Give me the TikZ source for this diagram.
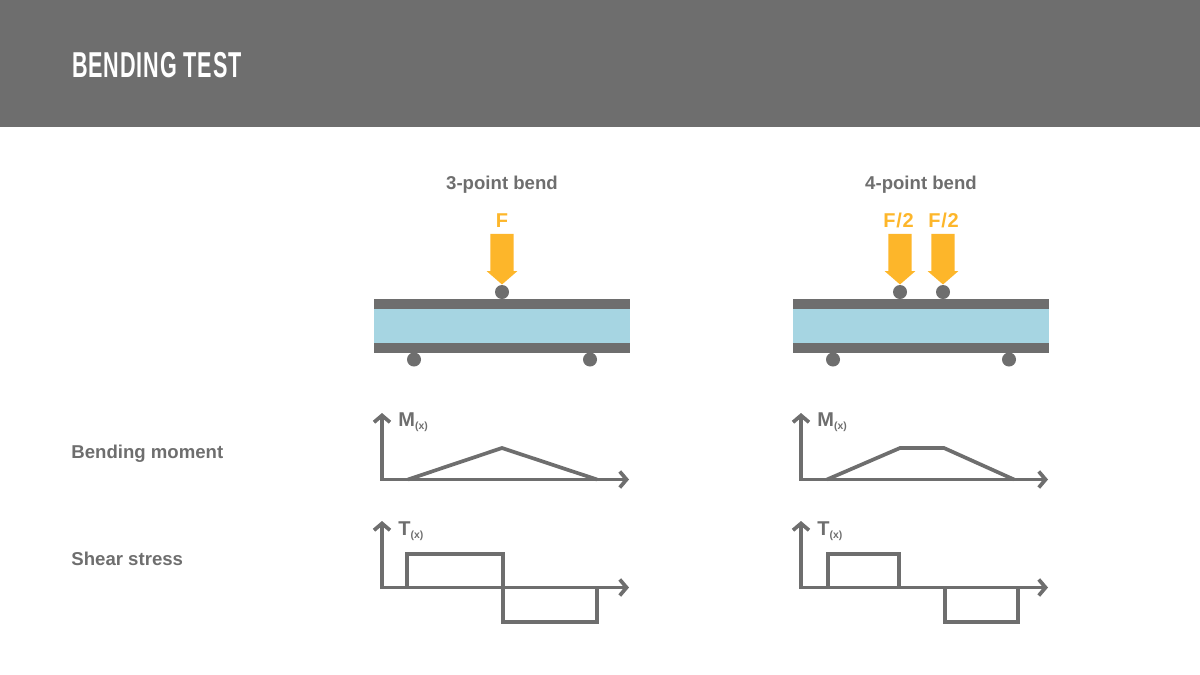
\documentclass[tikz,border=0pt]{standalone}
\usepackage{fontspec}
\setmainfont{Liberation Sans}
\usepackage{tikz}
\usetikzlibrary{arrows.meta,shapes.arrows}

\definecolor{bendgray}{HTML}{6E6E6E}
\definecolor{bendblue}{HTML}{A6D5E2}
\definecolor{bendyellow}{HTML}{FDB62A}

\newcommand{\subx}{\raisebox{-1.6pt}{\fontsize{5.2}{5.2}\selectfont(x)}}
\newcommand{\halfload}{F\kern.4pt/\kern.4pt2}

\begin{document}
\begin{tikzpicture}
    [
      x=0.5pt,y=-0.5pt,
      heading/.style={text=bendgray,font=\fontsize{9.3}{11}\bfseries\selectfont,anchor=base},
      rowlabel/.style={heading,anchor=base west},
      forcelabel/.style={text=bendyellow,font=\fontsize{10}{12}\bfseries\selectfont,anchor=base},
      axislabel/.style={text=bendgray,font=\fontsize{10}{12}\bfseries\selectfont,anchor=base west,inner sep=0pt},
      force/.style={single arrow,fill=bendyellow,shape border rotate=270,inner sep=5.625pt,anchor=tip,
        minimum width=15pt,minimum height=25.25pt,single arrow head extend=1.875pt,
        single arrow tip angle=98,single arrow head indent=0pt},
      roller/.style={circle,fill=bendgray,inner sep=0pt,minimum size=7pt},
      face/.style={fill=bendgray,inner sep=0pt,minimum width=128pt,minimum height=4.75pt},
      core/.style={fill=bendblue,inner sep=0pt,minimum width=128pt,minimum height=17.25pt},
      axis/.style={draw=bendgray,line width=1.85pt,miter limit=10,{Straight Barb[length=3.4pt,width=8pt]}-{Straight Barb[length=3.4pt,width=8pt]}},
      curve/.style={draw=bendgray,line width=1.85pt,line join=miter},
    ]

    \fill [bendgray] (0,0) rectangle (1200,127);
    \useasboundingbox (0,0) rectangle (1200,675);

    \node (title) [text=white,font=\fontsize{18}{20}\bfseries\selectfont\addfontfeature{LetterSpace=4},xscale=0.6,anchor=base west,inner sep=0pt] at (72,77) {BENDING TEST};
    \node (moment-label) [rowlabel,inner sep=0pt] at (71,458) {Bending moment};
    \node (shear-label) [rowlabel,inner sep=0pt] at (71,565) {Shear stress};

    % 3-point bend
    \node (three-title) [heading] at (502,189) {3-point bend};
    \node (three-f) [forcelabel] at (502,227) {F};
    \node (three-arrow) [force] at (502,285) {};
    \node (three-core) [core] at (502,325.75) {};
    \node (three-top) [face] at (502,303.75) {};
    \node (three-bottom) [face] at (502,347.75) {};
    \node (three-load) [roller] at (502,292) {};
    \node (three-left) [roller] at (414,359.5) {};
    \node (three-right) [roller] at (590,359.5) {};

    \coordinate (three-m-top) at (382,413);
    \coordinate (three-m-0) at (382,479.5);
    \coordinate (three-m-end) at (629,479.5);
    \coordinate (three-t-top) at (382,521);
    \coordinate (three-t-0) at (382,587.5);
    \coordinate (three-t-end) at (629,587.5);
    \node (three-m) [axislabel] at (398,426) {M\subx};
    \node (three-t) [axislabel] at (398,535) {T\subx};
    \draw [axis] (three-m-top) -- (three-m-0) -- (three-m-end);
    \draw [axis] (three-t-top) -- (three-t-0) -- (three-t-end);
    \draw [curve] (408,479.5) -- (502,448) -- (597,479.5);
    \draw [curve] (407,587.5) -- (407,554) -- (503,554) -- (503,622) -- (597,622) -- (597,587.5);

    % 4-point bend
    \node (four-title) [heading] at (921,189) {4-point bend};
    \node (four-f1) [forcelabel] at (898.5,227) {\halfload};
    \node (four-f2) [forcelabel] at (943.5,227) {\halfload};
    \node (four-arrow1) [force] at (900,285) {};
    \node (four-arrow2) [force] at (943,285) {};
    \node (four-core) [core] at (921,325.75) {};
    \node (four-top) [face] at (921,303.75) {};
    \node (four-bottom) [face] at (921,347.75) {};
    \node (four-load1) [roller] at (900,292) {};
    \node (four-load2) [roller] at (943,292) {};
    \node (four-left) [roller] at (833,359.5) {};
    \node (four-right) [roller] at (1009,359.5) {};

    \coordinate (four-m-top) at (801,413);
    \coordinate (four-m-0) at (801,479.5);
    \coordinate (four-m-end) at (1048,479.5);
    \coordinate (four-t-top) at (801,521);
    \coordinate (four-t-0) at (801,587.5);
    \coordinate (four-t-end) at (1048,587.5);
    \node (four-m) [axislabel] at (817,426) {M\subx};
    \node (four-t) [axislabel] at (817,535) {T\subx};
    \draw [axis] (four-m-top) -- (four-m-0) -- (four-m-end);
    \draw [axis] (four-t-top) -- (four-t-0) -- (four-t-end);
    \draw [curve] (827,479.5) -- (900,448) -- (944,448) -- (1014,479.5);
    \draw [curve] (828,587.5) -- (828,554) -- (899,554) -- (899,587.5);
    \draw [curve] (945,587.5) -- (945,622) -- (1018,622) -- (1018,587.5);

  \end{tikzpicture}
\end{document}
